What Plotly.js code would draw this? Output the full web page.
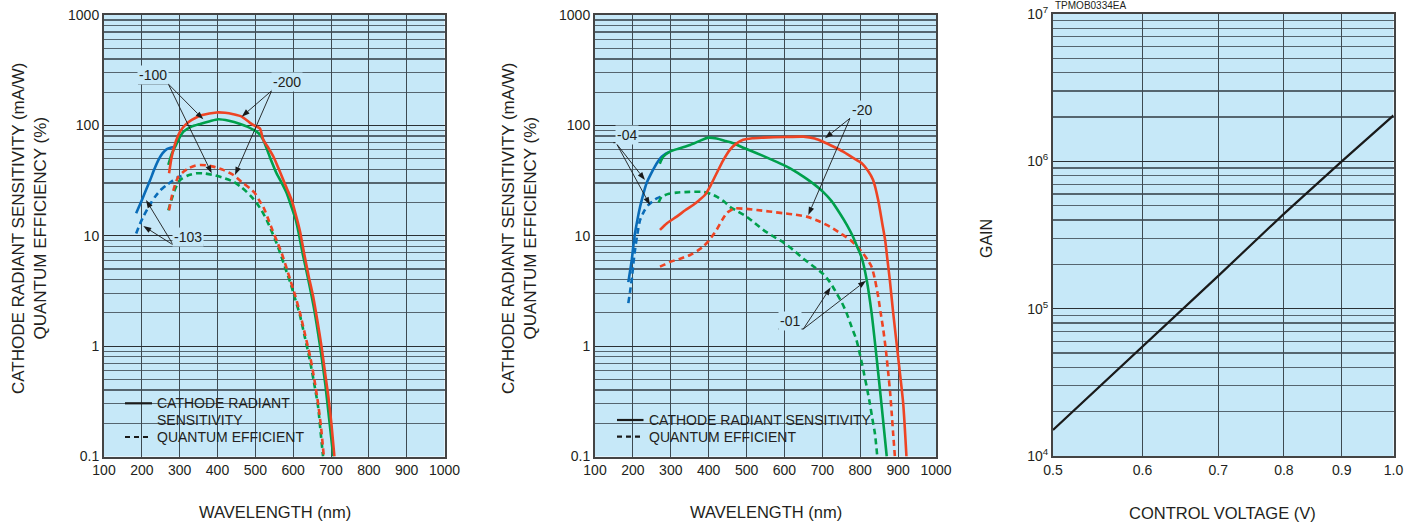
<!DOCTYPE html>
<html>
<head>
<meta charset="utf-8">
<script src="https://cdn.plot.ly/plotly-3.0.1.min.js"></script>
<style>html,body{margin:0;padding:0;background:#fff;}#chart{width:1421px;height:528px;}</style>
</head>
<body>
<div id="chart"></div>
<script>
// ---------------- DATA ----------------
// Left chart (types -100 / -103 / -200)
const L_r200_crs_nm = [272, 279, 290, 301, 315, 332, 360, 398, 420, 442, 464, 485, 499, 512, 521, 535, 548, 561, 574, 585, 596, 607, 618, 629, 641, 653, 664, 675, 685, 693, 701, 709];
const L_r200_crs_v  = [36.8, 52, 72, 87.7, 101, 112, 124, 131, 130, 126, 120, 106, 99, 94, 74, 62, 52, 41, 32, 26, 21, 15.5, 11, 6.9, 4.3, 2.8, 1.7, 0.99, 0.55, 0.35, 0.2, 0.1];
const L_g100_crs_nm = [270, 279, 288, 300, 310, 330, 354, 380, 402, 430, 460, 480, 495, 510, 521, 538, 556, 570, 583, 595, 607, 616, 625, 640, 655, 671, 685, 695, 706];
const L_g100_crs_v  = [43.8, 55, 64, 78, 87.7, 97, 103, 109, 113.5, 110, 103, 97, 91, 84, 74, 52, 36.8, 30, 24.3, 18.5, 13.9, 10, 6.9, 4.0, 2.2, 1.0, 0.45, 0.22, 0.1];
const L_b103_crs_nm = [185, 193, 200, 211, 222, 233, 244, 255, 266, 278, 288];
const L_b103_crs_v  = [16, 18.5, 21, 26, 32, 40, 48.6, 56, 61, 63, 64];
const L_r200_qe_nm  = [272, 279, 287, 296, 310, 323, 340, 354, 370, 389, 415, 442, 468, 485, 499, 510, 521, 533, 545, 558, 570, 581, 592, 605, 618, 632, 645, 656, 666, 674, 681];
const L_r200_qe_v   = [17, 22.6, 28.5, 34, 38, 40.8, 43, 43.8, 43.5, 42.3, 39.5, 35.5, 29.9, 27, 24.3, 21, 18.3, 14.5, 11.3, 8.8, 6.9, 5.3, 4.0, 2.9, 2.0, 1.25, 0.8, 0.5, 0.30, 0.18, 0.1];
const L_g100_qe_nm  = [270, 278, 288, 301, 320, 345, 365, 389, 415, 442, 460, 477, 490, 504, 517, 530, 543, 556, 568, 580, 592, 605, 618, 631, 644, 656, 666, 673, 679];
const L_g100_qe_v   = [17, 21, 26.5, 32, 35, 36.8, 36.7, 35.5, 33.5, 30.9, 28, 25, 22.5, 19.7, 16.8, 13.9, 11, 8.6, 6.6, 5.0, 3.8, 2.7, 1.9, 1.2, 0.75, 0.45, 0.28, 0.16, 0.1];
const L_b103_qe_nm  = [185, 195, 204, 215, 225, 235, 250, 266, 281, 296, 305];
const L_b103_qe_v   = [10.5, 12.8, 14.9, 17.5, 20, 22.6, 26, 28.8, 31.5, 34, 34.8];

// Middle chart (types -01 / -04 / -20)
const M_b04_crs_nm = [188, 193, 197, 201, 205.5, 212, 219, 227, 236, 247, 258, 267, 276, 287, 298];
const M_b04_crs_v  = [3.8, 4.9, 6.0, 8.0, 10.5, 14, 18.3, 23.5, 29.9, 36, 42.3, 47.5, 52, 55.5, 57.8];
const M_g01_crs_nm = [271, 280, 298, 320, 351, 375, 399, 421, 445, 465, 495, 527, 560, 597, 625, 650, 677, 702, 725, 746, 765, 781, 793, 804, 817, 830, 843, 856, 870];
const M_g01_crs_v  = [45, 52, 57.8, 61.5, 66.4, 72, 77.4, 76, 72, 68.8, 62, 55.9, 50, 43.8, 39, 34.3, 29.5, 25, 20.5, 16, 12.5, 9.8, 7.8, 6.3, 4.0, 2.0, 0.8, 0.3, 0.1];
const M_r20_crs_nm = [271.5, 290, 315.6, 338, 359, 375, 390, 405, 421, 438, 456, 472, 491, 515, 544, 600, 650, 680, 702, 730, 755, 780, 804, 820, 834, 847.5, 858, 866, 872, 878, 887, 900, 913.5, 922];
const M_r20_crs_v  = [11.3, 13, 14.9, 17, 19, 21, 23.4, 28.5, 36.8, 48, 60, 68, 74, 76.5, 77.4, 78.5, 79, 76, 71, 64, 57.8, 51, 45.4, 39, 32, 21, 13, 9, 6, 4.0, 2.0, 0.8, 0.3, 0.1];
const M_b04_qe_nm  = [188, 193, 197, 201, 205.5, 212, 219, 230, 241, 252, 263, 272, 280];
const M_b04_qe_v   = [2.45, 3.2, 4.0, 5.5, 7.4, 10.5, 13.9, 16.8, 19, 20.5, 21.8, 22.5, 23];
const M_g01_qe_nm  = [268, 276, 295, 315.6, 350, 386, 405, 421, 440, 456, 478, 500, 522, 544, 570, 597, 624, 650, 676, 702, 720, 738, 751, 764, 777, 790, 799, 808, 817, 825.6, 832, 839, 845];
const M_g01_qe_v   = [20, 22.6, 24, 24.6, 25, 25, 24, 22.6, 20.5, 18.3, 16.5, 14.9, 13, 11.3, 9.9, 8.7, 7.4, 6.2, 5.3, 4.5, 3.8, 3.0, 2.5, 2.0, 1.5, 1.14, 0.85, 0.61, 0.43, 0.3, 0.22, 0.16, 0.1];
const M_r20_qe_nm  = [271.5, 285, 298, 325, 351, 370, 386, 400, 412, 421, 435, 447.5, 458, 469, 500, 527, 560, 597, 630, 658.6, 690, 720, 748, 773, 790, 808, 820, 830, 839, 847.5, 854, 861, 868, 874, 879, 883, 887, 891.5];
const M_r20_qe_v   = [5.25, 5.5, 5.8, 6.2, 6.7, 7.3, 8.0, 9.0, 10.2, 11.3, 13.8, 16, 17, 17.7, 17.5, 17.1, 16.6, 16, 15.5, 14.9, 13.6, 12.1, 10.5, 9.2, 8.1, 6.9, 6.0, 5.25, 4.0, 2.8, 2.0, 1.4, 0.9, 0.57, 0.38, 0.25, 0.16, 0.1];

// Right chart (gain vs control voltage)
const R_voltage = [0.5, 0.6, 0.7, 0.8, 0.9, 1.0];
const R_gain    = [1.5e4, 5.5e4, 1.67e5, 4.4e5, 1.0e6, 2.05e6];

// Tick labels
const wlTicks = [100, 200, 300, 400, 500, 600, 700, 800, 900, 1000];
const sensDecades = [0.1, 1, 10, 100, 1000];
const sensDecadeLabels = ['0.1', '1', '10', '100', '1000'];
const voltTicks = [0.5, 0.6, 0.7, 0.8, 0.9, 1.0];
const voltLabels = ['0.5', '0.6', '0.7', '0.8', '0.9', '1.0'];
const gainDecades = [1e4, 1e5, 1e6, 1e7];
const gainLabels = ['10<sup>4</sup>', '10<sup>5</sup>', '10<sup>6</sup>', '10<sup>7</sup>'];

// ---------------- STYLE ----------------
const W = 1421, H = 528;
const FONT = 'Liberation Sans, Arial, Helvetica, sans-serif';
const BG = '#c6e8f8';
const GRID = '#2a3035';
const GRID_MINOR = '#55656f';
const RED = '#ee4424', GREEN = '#00a04c', BLUE = '#0a6cb8';
const TXT = '#231f20';
const px = X => X / W, py = Y => 1 - Y / H;

// minor grid positions (2..9 of each decade)
function minorVals(decades) {
  const vals = [];
  for (let i = 0; i < decades.length - 1; i++) {
    for (let m = 2; m <= 9; m++) vals.push(decades[i] * m);
  }
  return vals;
}
const sensMinor = minorVals(sensDecades);
const gainMinor = minorVals(gainDecades);

function line(x, y, color, dash, xa, ya) {
  return {x, y, type: 'scatter', mode: 'lines', xaxis: xa, yaxis: ya, hoverinfo: 'skip',
    line: {color, width: 2.6, dash: dash ? '6px,4px' : 'solid', shape: 'spline', smoothing: 0.6}, showlegend: false};
}

const traces = [
  line(L_b103_qe_nm, L_b103_qe_v, BLUE, true, 'x', 'y'),
  line(L_g100_qe_nm, L_g100_qe_v, GREEN, true, 'x', 'y'),
  line(L_r200_qe_nm, L_r200_qe_v, RED, true, 'x', 'y'),
  line(L_b103_crs_nm, L_b103_crs_v, BLUE, false, 'x', 'y'),
  line(L_g100_crs_nm, L_g100_crs_v, GREEN, false, 'x', 'y'),
  line(L_r200_crs_nm, L_r200_crs_v, RED, false, 'x', 'y'),

  line(M_b04_qe_nm, M_b04_qe_v, BLUE, true, 'x2', 'y2'),
  line(M_g01_qe_nm, M_g01_qe_v, GREEN, true, 'x2', 'y2'),
  line(M_r20_qe_nm, M_r20_qe_v, RED, true, 'x2', 'y2'),
  line(M_b04_crs_nm, M_b04_crs_v, BLUE, false, 'x2', 'y2'),
  line(M_g01_crs_nm, M_g01_crs_v, GREEN, false, 'x2', 'y2'),
  line(M_r20_crs_nm, M_r20_crs_v, RED, false, 'x2', 'y2'),

  {x: R_voltage, y: R_gain, type: 'scatter', mode: 'lines', xaxis: 'x3', yaxis: 'y3', hoverinfo: 'skip',
   line: {color: '#1a1a1a', width: 2.2}, showlegend: false}
];

const axBase = {
  showline: true, mirror: true, linecolor: '#444', linewidth: 2,
  showgrid: true, gridcolor: GRID, gridwidth: 1, zeroline: false,
  ticks: '', tickfont: {family: FONT, size: 14, color: TXT}, fixedrange: true
};
const minorGrid = vals => ({tickmode: 'array', tickvals: vals, ticks: '', showgrid: true, gridcolor: GRID_MINOR, gridwidth: 1.2});
const yDom = [1 - 456.5 / H, 1 - 15 / H];

const layout = {
  width: W, height: H, margin: {l: 0, r: 0, t: 0, b: 0},
  paper_bgcolor: '#ffffff', plot_bgcolor: BG, showlegend: false,
  font: {family: FONT, color: TXT},
  xaxis: Object.assign({}, axBase, {domain: [104 / W, 444.5 / W], range: [100, 1000], tickmode: 'array', tickvals: wlTicks, ticktext: wlTicks.map(String), gridcolor: '#3d4a52', anchor: 'y'}),
  yaxis: Object.assign({}, axBase, {domain: yDom, type: 'log', range: [-1, 3], tickmode: 'array', tickvals: sensDecades, ticktext: sensDecadeLabels, minor: minorGrid(sensMinor), anchor: 'x'}),
  xaxis2: Object.assign({}, axBase, {domain: [595 / W, 936 / W], range: [100, 1000], tickmode: 'array', tickvals: wlTicks, ticktext: wlTicks.map(String), gridcolor: '#3d4a52', anchor: 'y2'}),
  yaxis2: Object.assign({}, axBase, {domain: yDom, type: 'log', range: [-1, 3], tickmode: 'array', tickvals: sensDecades, ticktext: sensDecadeLabels, minor: minorGrid(sensMinor), anchor: 'x2'}),
  xaxis3: Object.assign({}, axBase, {domain: [1053 / W, 1393.5 / W], type: 'log', range: [Math.log10(0.5), 0], tickmode: 'array', tickvals: voltTicks, ticktext: voltLabels, gridcolor: '#3d4a52', anchor: 'y3'}),
  yaxis3: Object.assign({}, axBase, {domain: [1 - 456 / H, 1 - 14 / H], type: 'log', range: [4, 7], tickmode: 'array', tickvals: gainDecades, ticktext: gainLabels, minor: minorGrid(gainMinor), anchor: 'x3'}),
  shapes: [],
  annotations: []
};

const shapes = layout.shapes, ann = layout.annotations;
function seg(x0, y0, x1, y1, dash, w) {
  shapes.push({type: 'line', xref: 'paper', yref: 'paper', x0: px(x0), y0: py(y0), x1: px(x1), y1: py(y1),
    line: {color: '#1a1a1a', width: w || 1, dash: dash || 'solid'}, layer: 'above'});
}
function txt(X, Y, s, size, anchor, opts) {
  ann.push(Object.assign({xref: 'paper', yref: 'paper', x: px(X), y: py(Y), text: s, showarrow: false,
    xanchor: anchor || 'center', yanchor: 'middle', font: {family: FONT, size: size, color: TXT}}, opts || {}));
}
// arrow drawn as a thin line plus a filled triangular head (pixel coords -> paper)
function arrow(tx, ty, hx, hy) {
  const dx = hx - tx, dy = hy - ty, len = Math.hypot(dx, dy);
  const ux = dx / len, uy = dy / len, L = 8, Wd = 2.8;
  const bx = hx - ux * L, by = hy - uy * L;
  seg(tx, ty, bx, by, 'solid', 0.9);
  const p1 = [bx - uy * Wd, by + ux * Wd], p2 = [bx + uy * Wd, by - ux * Wd];
  shapes.push({type: 'path', xref: 'paper', yref: 'paper',
    path: `M ${px(hx)} ${py(hy)} L ${px(p1[0])} ${py(p1[1])} L ${px(p2[0])} ${py(p2[1])} Z`,
    fillcolor: '#1a1a1a', line: {width: 0}, layer: 'above'});
}
function label(s, cx, cy, ux0, ux1, uy) {
  txt(cx, cy, s, 14, 'center', {bgcolor: BG, borderpad: 1});
  seg(ux0, uy, ux1, uy, 'solid', 1);
}

// Legend boxes
function legendBox(x0, y0, x1, y1) {
  shapes.push({type: 'rect', xref: 'paper', yref: 'paper', x0: px(x0), y0: py(y0), x1: px(x1), y1: py(y1),
    fillcolor: BG, line: {width: 0}, layer: 'between'});
}
legendBox(123, 393, 308, 447);
seg(125, 403.3, 152, 403.3, 'solid', 2.2);
seg(125, 437, 152, 437, '5px,4px', 2.2);
txt(155, 403.3, 'CATHODE RADIANT', 14, 'left');
txt(155, 420, 'SENSITIVITY', 14, 'left');
txt(155, 437, 'QUANTUM EFFICIENT', 14, 'left');

legendBox(612, 409, 869, 446);
seg(617, 420, 643.5, 420, 'solid', 2.2);
seg(617, 436.7, 643.5, 436.7, '5px,4px', 2.2);
txt(646.5, 420, 'CATHODE RADIANT SENSITIVITY', 14, 'left');
txt(646.5, 436.7, 'QUANTUM EFFICIENT', 14, 'left');

// Curve labels + arrows (left)
label('-100', 153, 75, 138, 168.3, 84);
arrow(168.3, 84, 203.3, 119.3); arrow(168.3, 84, 211.7, 173.3);
label('-200', 286.7, 81.7, 271.7, 301.7, 90);
arrow(271.7, 90.7, 241.7, 116.7); arrow(271.7, 90.7, 235, 175);
label('-103', 188.3, 236.7, 173.3, 203.3, 245);
arrow(173.3, 245, 146, 200); arrow(173.3, 245, 143.3, 226);
// middle
label('-04', 626.7, 135, 613.3, 638.3, 142.7);
arrow(616.7, 144, 645, 180); arrow(616.7, 144, 650, 205);
label('-20', 861.7, 110, 851.7, 871.7, 117.3);
arrow(850, 118.3, 825, 138.3); arrow(850, 118.3, 808.3, 215);
label('-01', 790, 320.7, 778.3, 803.3, 329);
arrow(803.3, 329, 830.7, 287.3); arrow(803.3, 329, 866, 280.7);

// Axis titles
txt(29, 228, 'CATHODE RADIANT SENSITIVITY (mA/W)<br>QUANTUM EFFICIENCY (%)', 17, 'center', {textangle: -90});
txt(519, 228, 'CATHODE RADIANT SENSITIVITY (mA/W)<br>QUANTUM EFFICIENCY (%)', 17, 'center', {textangle: -90});
txt(986, 239, 'GAIN', 16, 'center', {textangle: -90});
txt(274.5, 512, 'WAVELENGTH (nm)', 16.5);
txt(765.5, 512, 'WAVELENGTH (nm)', 16.5);
txt(1222.5, 512.5, 'CONTROL VOLTAGE (V)', 16.5);
txt(1052.5, 5, 'TPMOB0334EA', 10, 'left');

Plotly.newPlot('chart', traces, layout, {staticPlot: true, displayModeBar: false});
</script>
</body>
</html>
